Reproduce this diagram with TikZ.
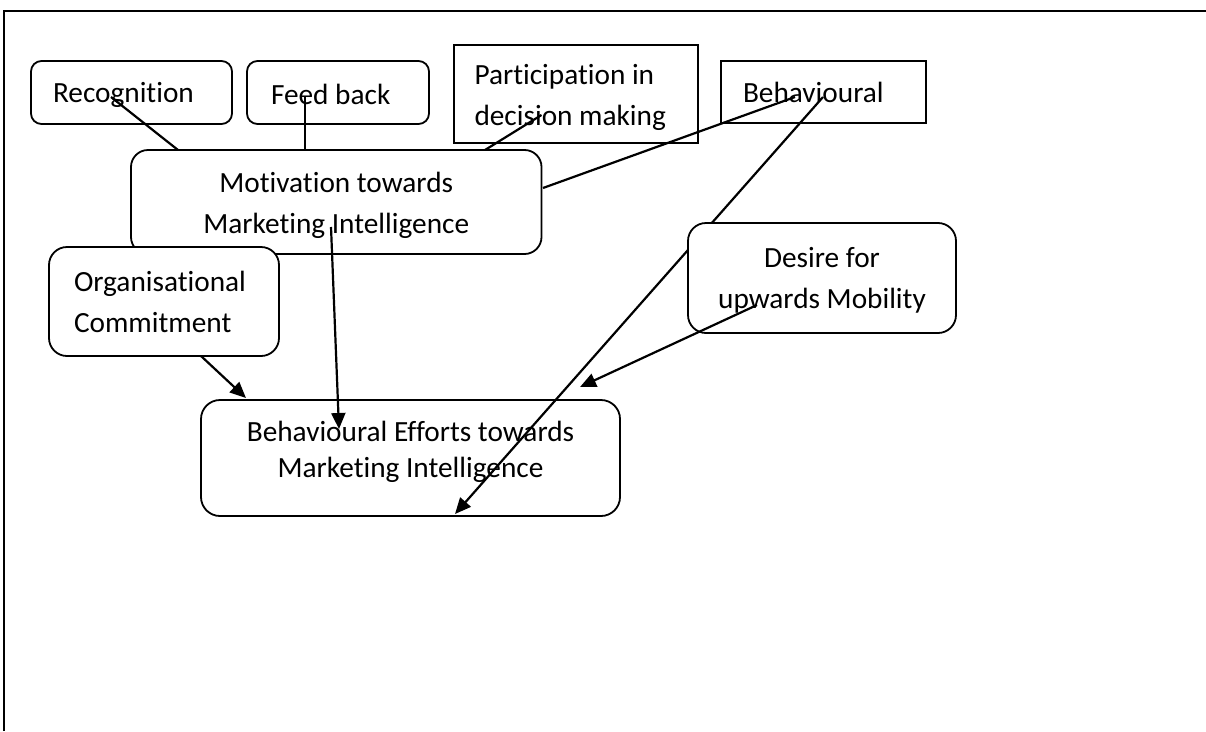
\documentclass[tikz,border=0pt]{standalone}
\usepackage{fontspec}
\setmainfont{Carlito}[Ligatures={NoCommon}]
\usetikzlibrary{arrows.meta}
\begin{document}
\begin{tikzpicture}[x=1pt,y=-1pt,
  txt/.style={font=\fontsize{29.3}{41}\selectfont},
  bx/.style={txt, draw, line width=1.8pt, fill=white, inner ysep=0pt, anchor=center},
  lbx/.style={bx, align=flush left},
  cbx/.style={bx, align=center, inner xsep=0pt},
  conn/.style={line width=2.2pt},
  arr/.style={conn, -{Triangle[length=16pt,width=14pt]}}]
\useasboundingbox (0,0) rectangle (1206,731);
% frame
\draw[line width=2pt] (4,731) -- (4,11) -- (1206,11);
% top boxes
\node[lbx, rounded corners=10.5pt, minimum width=201pt, minimum height=63pt,
      text width=157pt, inner xsep=22pt] (rec) at (131.5,92.5) {\rule{0pt}{25pt}Recognition};
\node[lbx, rounded corners=10.5pt, minimum width=182pt, minimum height=63pt,
      text width=134pt, inner xsep=24pt] (fb) at (338,92.5) {\rule{0pt}{25pt}Feed back};
\node[lbx, minimum width=244pt, minimum height=98pt,
      text width=203pt, inner xsep=20.5pt] (par) at (576,94) {\rule{0pt}{27pt}Participation in\\decision making};
\node[lbx, minimum width=205pt, minimum height=62pt,
      text width=161pt, inner xsep=22pt] (beh) at (823.5,92) {Behavioural};
% middle boxes
\node[cbx, rounded corners=17pt, minimum width=410.5pt, minimum height=104pt]
      (mot) at (336.25,202) {\rule{0pt}{28pt}Motivation towards\\Marketing Intelligence};
\node[lbx, rounded corners=18pt, minimum width=230pt, minimum height=109pt,
      text width=180pt, inner xsep=25pt] (org) at (164,301.5) {Organisational\\Commitment};
\node[cbx, rounded corners=19pt, minimum width=419pt, minimum height=116pt,
      font=\fontsize{29.3}{36}\selectfont]
      (be) at (410.5,458) {Behavioural Efforts towards\\Marketing Intelligence\rule[-18pt]{0pt}{18pt}};
% connector end points
\coordinate (recS) at (111,97);
\coordinate (fbS) at (305,97);
\coordinate (parS) at (541.5,115);
\coordinate (behS1) at (795,97);
\coordinate (behS2) at (823,97);
\coordinate (motS) at (331,227);
\coordinate (motA) at (178,150);
\coordinate (motB) at (305,150);
\coordinate (motC) at (485,150);
\coordinate (motD) at (543,188);
\coordinate (orgS) at (201,356);
\coordinate (beA) at (339,429);
\coordinate (beB) at (246,398);
\coordinate (beC) at (580,387);
\coordinate (beD) at (455,514);
\coordinate (desS) at (757,305);
% connectors
\draw[conn] (recS) -- (motA);
\draw[conn] (fbS) -- (motB);
\draw[conn] (parS) -- (motC);
\draw[conn] (behS1) -- (motD);
\draw[arr] (motS) -- (beA);
\draw[arr] (orgS) -- (beB);
\draw[arr] (behS2) -- (beD);
% desire box drawn over the long connector
\node[cbx, rounded corners=18pt, minimum width=268pt, minimum height=110pt]
      (des) at (822,278) {\rule{0pt}{25pt}Desire for\\upwards Mobility};
\draw[arr] (desS) -- (beC);
\end{tikzpicture}
\end{document}
